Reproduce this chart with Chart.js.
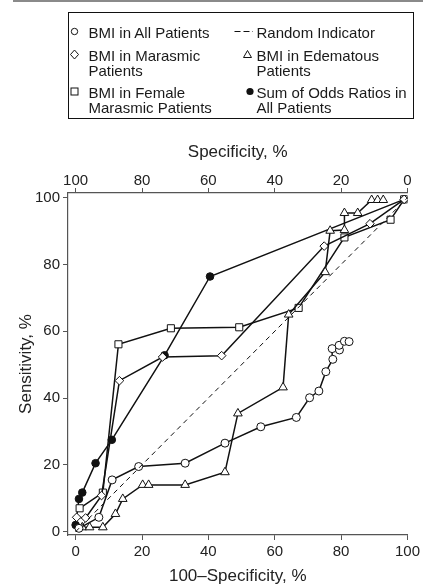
<!DOCTYPE html>
<html>
<head>
<meta charset="utf-8">
<script src="https://cdn.jsdelivr.net/npm/chart.js@4.4.0/dist/chart.umd.min.js"></script>
<style>
  body { margin: 0; background: #fff; font-family: "Liberation Sans", Arial, sans-serif; }
  #wrap { position: relative; width: 423px; height: 586px; }
  #topline { position: absolute; left: 13px; top: 0; width: 410px; height: 2px; background: #8a8a8a; }
  #legend { position: absolute; left: 68px; top: 12px; width: 344px; height: 105px; border: 1.5px solid #111; }
  #legend svg { position: absolute; left: 0; top: 0; }
  .item { position: absolute; font-size: 15px; line-height: 15px; color: #1a1a1a; white-space: nowrap; }
</style>
</head>
<body>
<div id="wrap">
  <div id="topline"></div>
  <canvas id="roc" width="423" height="586"></canvas>
  <div id="legend">
    <svg width="344" height="105">
      <circle cx="5.5" cy="18.5" r="3.2" fill="#fff" stroke="#111" stroke-width="1"/>
      <path d="M5.5 37 L9.5 41.5 L5.5 46 L1.5 41.5 Z" fill="#fff" stroke="#111" stroke-width="1"/>
      <rect x="2" y="75" width="7" height="7" fill="#fff" stroke="#111" stroke-width="1"/>
      <line x1="165.5" y1="18.5" x2="184" y2="18.5" stroke="#111" stroke-width="1" stroke-dasharray="6,3"/>
      <path d="M178.5 37.5 L182.5 44.5 L174.5 44.5 Z" fill="#fff" stroke="#111" stroke-width="1"/>
      <circle cx="181" cy="78.5" r="3.6" fill="#111"/>
    </svg>
    <div class="item" style="left:19.5px; top:11.5px;">BMI in All Patients</div>
    <div class="item" style="left:19.5px; top:34.5px;">BMI in Marasmic<br>Patients</div>
    <div class="item" style="left:19.5px; top:71.5px;">BMI in Female<br>Marasmic Patients</div>
    <div class="item" style="left:187.5px; top:11.5px;">Random Indicator</div>
    <div class="item" style="left:187.5px; top:34.5px;">BMI in Edematous<br>Patients</div>
    <div class="item" style="left:187.5px; top:71.5px;">Sum of Odds Ratios in<br>All Patients</div>
  </div>
</div>
<script>
// 100 - specificity (x) and sensitivity (y), in %
const allX = [1, 7, 11, 19, 33, 45, 55.8, 66.5, 70.5, 73.3, 75.4, 77.5, 77.3, 79.5, 79.4, 81, 82.4];
const allY = [1, 4.3, 15.5, 19.5, 20.5, 26.5, 31.4, 34.2, 40.1, 42.1, 47.9, 51.6, 54.8, 54.4, 55.8, 57, 56.9];

const marasmicX = [0.3, 3, 7.8, 13.2, 26.2, 44, 74.9, 88.7, 99];
const marasmicY = [4.3, 4.1, 10.8, 45.2, 52.3, 52.7, 85.5, 92.2, 99.5];

const femaleX = [1.2, 8.2, 12.9, 28.7, 49.3, 67.2, 81, 94.9, 99];
const femaleY = [7, 11.7, 56.1, 60.9, 61.2, 67, 88.1, 93.4, 99.5];

const edemaX = [2, 4.2, 8.2, 12, 14.2, 20.2, 22, 33, 45, 48.9, 62.5, 64.2, 75.2, 76.7, 81, 81, 85, 89.2, 91, 92.7];
const edemaY = [1.3, 1.3, 1.3, 5.3, 9.8, 14, 14, 14, 17.8, 35.4, 43.2, 65, 77.7, 90.1, 90.3, 95.4, 95.4, 99.3, 99.3, 99.3];

const oddsX = [0, 1, 2, 6, 10.9, 26.8, 40.5, 99];
const oddsY = [2, 9.8, 11.7, 20.5, 27.5, 52.8, 76.4, 99.5];

const randomX = [0, 100];
const randomY = [0, 100];

const tickValues = [0, 20, 40, 60, 80, 100];

const ink = '#111';
const fam = '"Liberation Sans", Arial, sans-serif';

function series(label, xs, ys, style, radius, fill) {
  return {
    label: label,
    data: xs.map((x, i) => ({ x: x, y: ys[i] })),
    showLine: true,
    borderColor: ink,
    borderWidth: 1.5,
    pointStyle: style,
    pointRadius: radius,
    pointBackgroundColor: fill,
    pointBorderColor: ink,
    pointBorderWidth: 1,
  };
}

function axis(extra) {
  return Object.assign({
    type: 'linear',
    grid: { drawOnChartArea: false, drawTicks: true, tickLength: 5, color: '#555', lineWidth: 1 },
    border: { display: true, color: '#555', width: 1.2 },
    ticks: { stepSize: 20, color: '#222', font: { family: fam, size: 15 }, padding: 3, maxRotation: 0, autoSkip: false },
    afterBuildTicks: s => { s.ticks = tickValues.map(v => ({ value: v })); },
  }, extra);
}

const datasets = [
  {
    label: 'Random Indicator',
    data: randomX.map((x, i) => ({ x: x, y: randomY[i] })),
    showLine: true,
    borderColor: ink,
    borderWidth: 1,
    borderDash: [5, 4],
    pointRadius: 0,
  },
  series('BMI in All Patients', allX, allY, 'circle', 4, '#fff'),
  series('BMI in Edematous Patients', edemaX, edemaY, 'triangle', 5, '#fff'),
  series('BMI in Marasmic Patients', marasmicX, marasmicY, 'rectRot', 4.3, '#fff'),
  series('BMI in Female Marasmic Patients', femaleX, femaleY, 'rect', 5, '#fff'),
  series('Sum of Odds Ratios in All Patients', oddsX, oddsY, 'circle', 3.8, ink),
];

const titleFont = { family: fam, size: 17 };

new Chart(document.getElementById('roc'), {
  type: 'scatter',
  data: { datasets: datasets },
  options: {
    responsive: false,
    animation: false,
    devicePixelRatio: 1,
    layout: { padding: { top: 125, right: 13, left: 0, bottom: 0 } },
    plugins: { legend: { display: false }, tooltip: { enabled: false } },
    scales: {
      x: axis({
        position: 'bottom', min: -2.3, max: 100,
        title: { display: true, text: '100\u2013Specificity, %', color: '#222', font: titleFont, padding: { top: 2, bottom: -1 } },
        afterFit: s => { s.height = 51; },
      }),
      x2: axis({
        position: 'top', min: 0, max: 102.3, reverse: true,
        ticks: { stepSize: 20, color: '#222', font: { family: fam, size: 15 }, padding: -2, maxRotation: 0, autoSkip: false },
        title: { display: true, text: 'Specificity, %', color: '#222', font: titleFont, padding: { top: 17, bottom: 0 } },
        afterFit: s => { s.height = 68; },
      }),
      y: axis({
        position: 'left', min: -1, max: 101.4,
        title: { display: true, text: 'Sensitivity, %', color: '#222', font: titleFont, padding: { top: 16, bottom: 0 } },
        afterFit: s => { s.width = 68; },
      }),
    },
  },
});
</script>
</body>
</html>
